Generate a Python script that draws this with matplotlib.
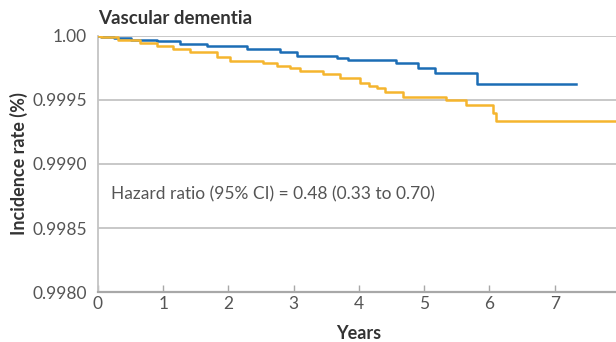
import matplotlib
matplotlib.use("Agg")
import matplotlib.pyplot as plt
from matplotlib.ticker import FixedLocator

plt.rcParams['font.family'] = ['Lato', 'DejaVu Sans']

# Kaplan-Meier style step data (years, cumulative "incidence rate")
blue_t = [0.0, 0.05, 0.25, 0.5, 0.9, 1.26, 1.67, 2.29, 2.79, 3.05, 3.67, 3.83,
          4.56, 4.91, 5.17, 5.81, 7.33]
blue_v = [1.0000, 0.99999, 0.99998, 0.99997, 0.99996, 0.999935, 0.999922, 0.999896,
          0.999873, 0.999846, 0.999828, 0.999809, 0.999785, 0.99975, 0.999709,
          0.999627, 0.999627]

orange_t = [0.0, 0.05, 0.3, 0.64, 0.9, 1.15, 1.41, 1.83, 2.02, 2.53, 2.75, 2.94,
            3.10, 3.45, 3.71, 4.02, 4.15, 4.28, 4.40, 4.68, 5.34, 5.64, 6.06, 6.10, 8.0]
orange_v = [1.0000, 0.99999, 0.99997, 0.999943, 0.99992, 0.999896, 0.999873,
            0.999838, 0.999807, 0.999785, 0.999765, 0.999748, 0.999727, 0.999703,
            0.99967, 0.99963, 0.999612, 0.999594, 0.999559, 0.999523, 0.9995,
            0.999461, 0.999402, 0.999336, 0.999336]

x_ticks = [0, 1, 2, 3, 4, 5, 6, 7, 8]
y_ticks = [0.9980, 0.9985, 0.9990, 0.9995, 1.0000]
y_labels = ["0.9980", "0.9985", "0.9990", "0.9995", "1.00"]

title = "Vascular dementia"
annot = "Hazard ratio (95% CI) = 0.48 (0.33 to 0.70)"

fig = plt.figure(figsize=(6.16, 3.42), dpi=100)
ax = fig.add_axes([0.159, 0.146, 1.0065 - 0.159, 0.895 - 0.146])

blue = "#1c6db5"
orange = "#f5b52e"
grid_c = "#c4c4c4"
text_c = "#555555"

ax.step(blue_t, blue_v, where="post", color=blue, lw=1.8, zorder=3)
ax.step(orange_t, orange_v, where="post", color=orange, lw=1.8, zorder=3)

ax.set_xlim(0, 8)
ax.set_ylim(0.9980, 1.0000)
ax.yaxis.set_major_locator(FixedLocator(y_ticks))
ax.set_yticklabels(y_labels)
ax.set_xticks(x_ticks)

for y in y_ticks[1:]:
    ax.axhline(y, color=grid_c, lw=1.3, zorder=1)

for s in ["top", "right"]:
    ax.spines[s].set_visible(False)
ax.spines["left"].set_color(grid_c)
ax.spines["left"].set_linewidth(1.3)
ax.spines["bottom"].set_color("#a8a8a8")
ax.spines["bottom"].set_linewidth(1.6)

ax.tick_params(axis="x", direction="in", length=5, width=1, color="#a8a8a8",
               labelsize=12.5, labelcolor=text_c, pad=3)
ax.tick_params(axis="y", length=0, labelsize=12.5, labelcolor=text_c, pad=8)

ax.set_xlabel("Years", fontsize=13, fontweight="bold", color="#333333", labelpad=9)
ax.set_ylabel("Incidence rate (%)", fontsize=13, fontweight="bold", color="#333333",
              labelpad=3)

fig.text(0.159, 0.945, title, fontsize=13.5, fontweight="bold", color="#333333",
         ha="left", va="center")
ax.text(0.2, 0.998766, annot, fontsize=12.5, color=text_c, ha="left", va="center")

fig.savefig("out.png", dpi=100)
